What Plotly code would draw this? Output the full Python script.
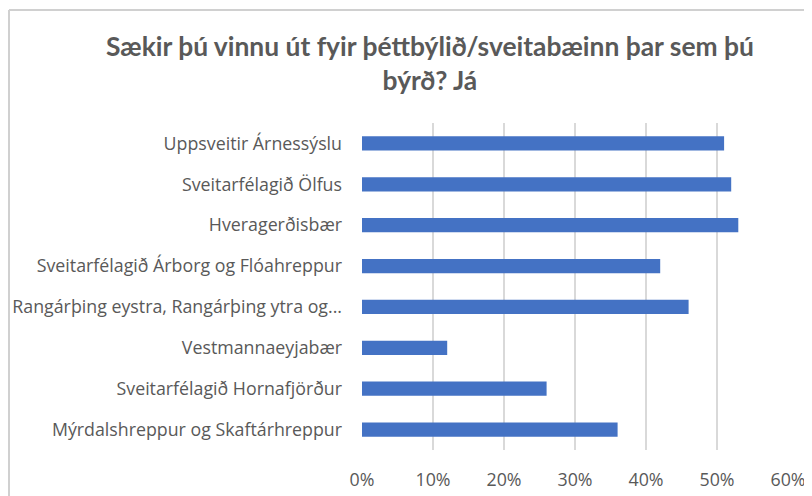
import plotly.graph_objects as go

categories = [
    "Uppsveitir Árnessýslu",
    "Sveitarfélagið Ölfus",
    "Hveragerðisbær",
    "Sveitarfélagið Árborg og Flóahreppur",
    "Rangárþing eystra, Rangárþing ytra og...",
    "Vestmannaeyjabær",
    "Sveitarfélagið Hornafjörður",
    "Mýrdalshreppur og Skaftárhreppur",
]
values = [0.51, 0.52, 0.53, 0.42, 0.46, 0.12, 0.26, 0.36]
x_ticks = [0, 0.1, 0.2, 0.3, 0.4, 0.5, 0.6]
title_text = "Sækir þú vinnu út fyir þéttbýlið/sveitabæinn þar sem þú<br>býrð? Já"

# page body has an 8px default margin, so the figure is offset by 8px
OFF = 8
W, H = 812 - OFF, 496 - OFF
ml, mr, mt, mb = 362 - OFF, 24, 123 - OFF, 46
pw, ph = W - ml - mr, H - mt - mb


def px_x(px):
    return (px - OFF - ml) / pw


def px_y(py):
    return 1 + (mt - (py - OFF)) / ph


fig = go.Figure(
    go.Bar(
        x=values,
        y=categories,
        orientation="h",
        marker=dict(color="#4472C4", line=dict(width=0)),
        hoverinfo="x+y",
    )
)

bx = px_x(9)
by = px_y(10)

fig.update_layout(
    width=W,
    height=H,
    margin=dict(l=ml, r=mr, t=mt, b=mb, autoexpand=False),
    paper_bgcolor="white",
    plot_bgcolor="white",
    bargap=0.65,
    showlegend=False,
    xaxis=dict(
        range=[0, 0.6],
        tickvals=x_ticks,
        tickformat=".0%",
        showgrid=True,
        gridcolor="#d9d9d9",
        gridwidth=2,
        zeroline=False,
        showline=False,
        ticks="",
        ticklabelstandoff=17,
        tickfont=dict(family="Open Sans", size=17.8, color="#595959"),
        fixedrange=True,
        automargin=False,
    ),
    yaxis=dict(
        autorange="reversed",
        showgrid=False,
        zeroline=False,
        showline=False,
        ticks="",
        ticklabelstandoff=19,
        tickfont=dict(family="Open Sans", size=17.8, color="#595959"),
        fixedrange=True,
        automargin=False,
    ),
    annotations=[
        dict(
            text=title_text,
            xref="paper",
            yref="paper",
            x=px_x(430),
            y=px_y(63.5),
            xanchor="center",
            yanchor="middle",
            showarrow=False,
            align="center",
            font=dict(family="Lato", size=26.4, color="#595959", weight="bold"),
        )
    ],
    shapes=[
        dict(type="line", xref="paper", yref="paper", x0=bx, x1=1.2, y0=by, y1=by,
             line=dict(color="#d0d0d0", width=2), layer="above"),
        dict(type="line", xref="paper", yref="paper", x0=bx, x1=bx, y0=by, y1=-0.3,
             line=dict(color="#d0d0d0", width=2), layer="above"),
    ],
)

fig.write_html("out.html")
